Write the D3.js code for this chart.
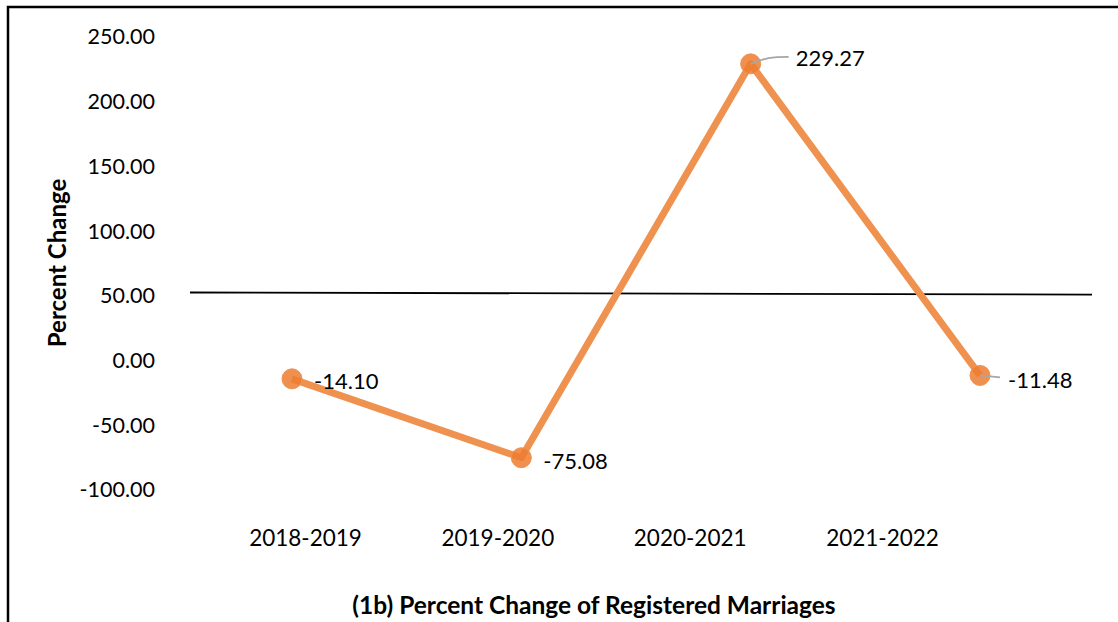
<!DOCTYPE html>
<html>
<head>
<meta charset="utf-8">
<script src="https://cdn.jsdelivr.net/npm/d3@7"></script>
<style>
  body { margin: 0; background: #fff; }
  svg { display: block; font-family: Lato, "Open Sans", sans-serif; }
</style>
</head>
<body>
<div id="chart"></div>
<script>
// chart data
var periods = ["2018-2019", "2019-2020", "2020-2021", "2021-2022"];
var percentChange = [-14.10, -75.08, 229.27, -11.48];
var yTicks = [-100, -50, 0, 50, 100, 150, 200, 250];
// the hand-drawn horizontal rule (value at its left and right ends)
var ruleValues = [52.6, 51.0];

var w = 1118,
    h = 622,
    svg = d3.select("#chart")
            .append("svg")
            .attr("width", w)
            .attr("height", h);

// frame (cropped on the right and bottom)
svg.append("path")
    .attr("d", "M8,622 V7 H1118")
    .attr("fill", "none")
    .attr("stroke", "#000")
    .attr("stroke-width", 2.5);

// scales
var y = d3.scaleLinear()
    .domain([-100, 250])
    .range([490, 37]);

var xPoint = d3.scalePoint()
    .domain(periods)
    .range([292, 980]);

var xLabel = d3.scalePoint()
    .domain(periods)
    .range([305, 882]);

// plain hyphen for negatives, like the original
var fmt = d3.formatLocale({ decimal: ".", thousands: ",", grouping: [3], currency: ["", ""], minus: "-" }).format(".2f");

// y axis labels
svg.append("g")
    .attr("transform", "translate(155,0)")
    .call(d3.axisLeft(y).tickValues(yTicks).tickFormat(fmt).tickSize(0).tickPadding(0))
    .call(function(g) { g.select(".domain").remove(); })
    .selectAll("text")
    .attr("font-family", "Lato, 'Open Sans', sans-serif")
    .attr("font-size", "21.5px")
    .attr("fill", "#000");

// x axis labels
svg.append("g")
    .attr("transform", "translate(0,530)")
    .call(d3.axisBottom(xLabel).tickSize(0).tickPadding(0))
    .call(function(g) { g.select(".domain").remove(); })
    .selectAll("text")
    .attr("font-family", "Lato, 'Open Sans', sans-serif")
    .attr("font-size", "22.5px")
    .attr("fill", "#000");

// horizontal rule
svg.append("line")
    .attr("x1", 190)
    .attr("x2", 1092)
    .attr("y1", y(ruleValues[0]))
    .attr("y2", y(ruleValues[1]))
    .attr("stroke", "#000")
    .attr("stroke-width", 1.8);

// data line
var line = d3.line()
    .x(function(d, i) { return xPoint(periods[i]); })
    .y(function(d) { return y(d); });

svg.append("path")
    .datum(percentChange)
    .attr("fill", "none")
    .attr("stroke", "#F0924F")
    .attr("stroke-width", 7)
    .attr("stroke-linejoin", "round")
    .attr("d", line);

// markers
svg.selectAll("circle.pt")
    .data(percentChange)
    .enter().append("circle")
    .attr("class", "pt")
    .attr("cx", function(d, i) { return xPoint(periods[i]); })
    .attr("cy", function(d) { return y(d); })
    .attr("r", 10)
    .attr("fill", "#ED7D31")
    .attr("fill-opacity", 0.85)
    .attr("stroke", "#F0924F")
    .attr("stroke-width", 1);

// leader lines for labels that are pulled away
var leaders = [
    { i: 2, path: function(px, py) { return "M" + px + "," + py + " C" + (px + 15) + "," + (py - 6) + " " + (px + 20) + "," + (py - 7) + " " + (px + 38) + "," + (py - 7); } },
    { i: 3, path: function(px, py) { return "M" + px + "," + py + " L" + (px + 20) + "," + (py + 2); } }
];
leaders.forEach(function(l) {
    svg.append("path")
        .attr("d", l.path(xPoint(periods[l.i]), y(percentChange[l.i])))
        .attr("fill", "none")
        .attr("stroke", "#A6A6A6")
        .attr("stroke-width", 1.8);
});

// data labels
var labelOffsets = [[22, 10], [22, 11], [45, 2], [28, 13]];
svg.selectAll("text.lbl")
    .data(percentChange)
    .enter().append("text")
    .attr("class", "lbl")
    .attr("x", function(d, i) { return xPoint(periods[i]) + labelOffsets[i][0]; })
    .attr("y", function(d, i) { return y(d) + labelOffsets[i][1]; })
    .attr("font-size", "22px")
    .attr("fill", "#000")
    .text(function(d) { return fmt(d); });

// axis title
svg.append("text")
    .attr("transform", "translate(66,263) rotate(-90)")
    .attr("text-anchor", "middle")
    .attr("font-size", "24px")
    .attr("font-weight", "bold")
    .text("Percent Change");

// chart title
svg.append("text")
    .attr("x", 594)
    .attr("y", 614)
    .attr("text-anchor", "middle")
    .attr("font-size", "24.5px")
    .attr("font-weight", "bold")
    .text("(1b) Percent Change of Registered Marriages");
</script>
</body>
</html>
